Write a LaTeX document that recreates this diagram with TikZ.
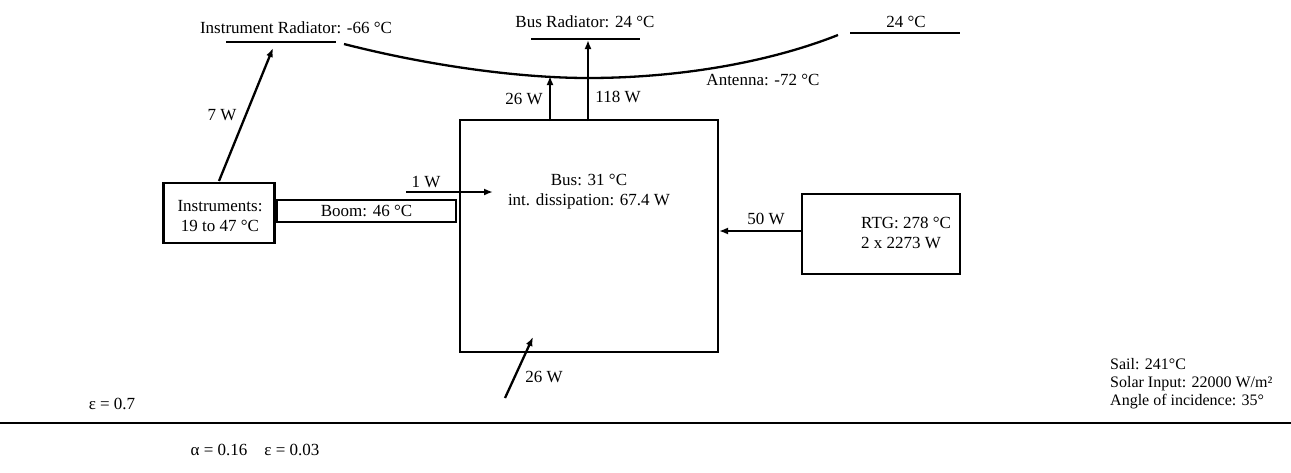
\documentclass[tikz,border=0pt]{standalone}
\usepackage{fontspec}
\setmainfont{Liberation Serif}
\usetikzlibrary{arrows.meta, positioning}

\begin{document}
\begin{tikzpicture}[x=1pt, y=-1pt,
  box/.style={draw, line width=2.3pt, inner sep=0pt},
  lbl/.style={font=\fontsize{17}{20}\selectfont, inner sep=0pt},
  flow/.style={line width=2.3pt, -{Latex[length=9pt,width=7pt]}},
  rad/.style={line width=2.3pt}]
  \useasboundingbox (0,0) rectangle (1291,472);
  % boxes
  \node[box, minimum width=258pt, minimum height=232pt] (bus) at (589,236) {};
  \node[box, minimum width=111pt, minimum height=60pt] (instr) at (219,213) {};
  \node[box, minimum width=179pt, minimum height=22pt] (boom) at (366.5,211) {};
  \node[box, minimum width=158pt, minimum height=80pt] (rtg) at (881,234) {};
  \node[lbl, align=center] (bustext) at (589,192) {Bus: 31 °C\\int. dissipation: 67.4 W};
  \node[lbl, align=center] (instrtext) at (220,216) {Instruments:\\ 19 to 47 °C};
  \node[lbl] (boomtext) at (boom) {Boom: 46 °C};
  \node[lbl, align=left, anchor=west] (rtgtext) at (861,233) {RTG: 278 °C\\2 x 2273 W};
  % radiators and antenna
  \coordinate (irA) at (226,42);
  \coordinate (irB) at (336,42);
  \coordinate (brA) at (531,39);
  \coordinate (brB) at (640,39);
  \coordinate (arA) at (850,33);
  \coordinate (arB) at (960,33);
  \draw[rad] (irA) -- (irB);
  \draw[rad] (brA) -- (brB);
  \draw[rad] (arA) -- (arB);
  \draw[rad] (344,44) .. controls (430,66) and (520,78) .. (588,78)
    .. controls (680,78) and (770,62) .. (838,35);
  \node[lbl] (irlabel) at (296,28) {Instrument Radiator: -66 °C};
  \node[lbl] (brlabel) at (585,22) {Bus Radiator: 24 °C};
  \node[lbl] (arlabel) at (906,22) {24 °C};
  \node[lbl] (antlabel) at (763,80) {Antenna: -72 °C};
  % heat flows
  \coordinate (instrtop) at (219,181);
  \coordinate (irend) at (273,48);
  \coordinate (bustopA) at (550,121);
  \coordinate (antend) at (550,76);
  \coordinate (bustopB) at (588,121);
  \coordinate (brend) at (588,40);
  \coordinate (oneA) at (406,192);
  \coordinate (oneB) at (493,192);
  \coordinate (busright) at (719,231);
  \coordinate (rtgleft) at (801,231);
  \coordinate (sunA) at (505,398);
  \coordinate (sunB) at (533,337);
  \draw[flow] (instrtop) -- (irend);
  \draw[flow] (bustopA) -- (antend);
  \draw[flow] (bustopB) -- (brend);
  \draw[flow] (oneA) -- (oneB);
  \draw[flow] (rtgleft) -- (busright);
  \draw[flow] (sunA) -- (sunB);
  \node[lbl] (w7) at (222,115) {7 W};
  \node[lbl] (w26a) at (524,99) {26 W};
  \node[lbl] (w118) at (618,97) {118 W};
  \node[lbl] (w1) at (426,182) {1 W};
  \node[lbl] (w50) at (766,219) {50 W};
  \node[lbl] (w26b) at (544,377) {26 W};
  % sail
  \coordinate (sailA) at (0,423);
  \coordinate (sailB) at (1291,423);
  \draw[line width=2.8pt] (sailA) -- (sailB);
  \node[lbl] (epsfront) at (112,404) {ε = 0.7};
  \node[lbl] (alphaback) at (255,450) {α = 0.16\quad ε = 0.03};
  \node[lbl, align=left, anchor=west, font=\fontsize{16}{18}\selectfont] (sailtext) at (1110,384)
    {Sail: 241°C\\Solar Input: 22000 W/m²\\Angle of incidence: 35°};
\end{tikzpicture}
\end{document}
